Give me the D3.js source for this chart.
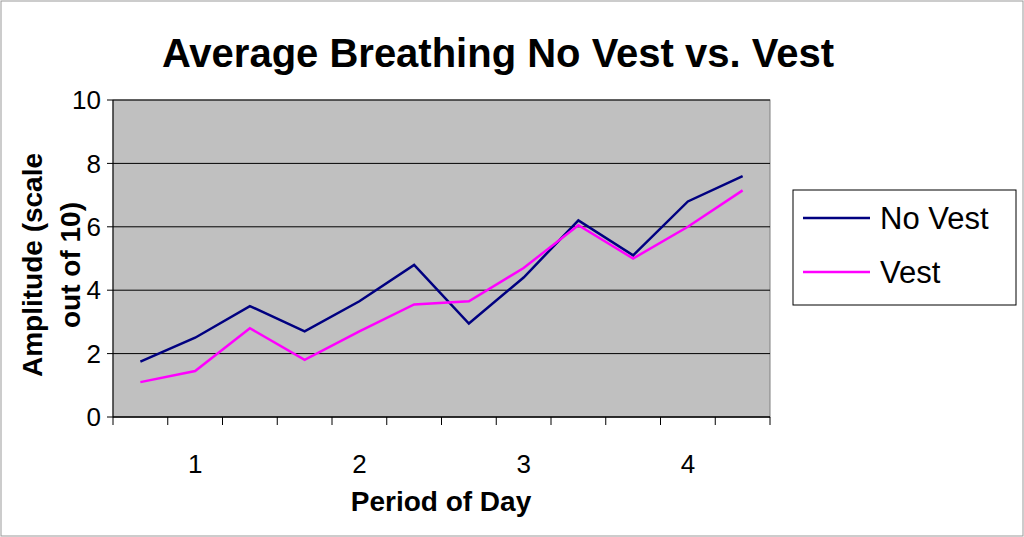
<!DOCTYPE html>
<html><head><meta charset="utf-8">
<script src="https://cdn.jsdelivr.net/npm/d3@7"></script>
<style>body{margin:0;background:#fff}svg{font-family:"Liberation Sans",Arial,sans-serif}</style>
</head><body><svg id="c" width="1024" height="537"></svg>
<script>
const categories = ["","1","","","2","","","3","","","4",""];
const noVest = [1.75,2.5,3.5,2.7,3.65,4.8,2.95,4.4,6.2,5.1,6.8,7.6];
const vest   = [1.1,1.45,2.8,1.8,2.7,3.55,3.65,4.7,6.05,5.0,6.0,7.15];
const yTicks = [0,2,4,6,8,10];
const svg = d3.select("#c");
svg.append("rect").attr("x",1).attr("y",1).attr("width",1022).attr("height",535).attr("fill","#fff").attr("stroke","#999");
const L=113,R=770,T=100,B=417;
const x = d3.scaleBand().domain(d3.range(categories.length)).range([L,R]);
const y = d3.scaleLinear().domain([0,10]).range([B,T]);
svg.append("rect").attr("x",L).attr("y",T).attr("width",R-L).attr("height",B-T).attr("fill","#c0c0c0").attr("stroke","#808080");
yTicks.forEach(t=>{
  svg.append("line").attr("x1",L).attr("x2",R).attr("y1",y(t)).attr("y2",y(t)).attr("stroke","#000").attr("stroke-width",1);
  svg.append("line").attr("x1",L-6).attr("x2",L).attr("y1",y(t)).attr("y2",y(t)).attr("stroke","#000");
  svg.append("text").attr("x",L-12).attr("y",y(t)).attr("dy","0.35em").attr("text-anchor","end").attr("font-size",26).text(t);
});
svg.append("line").attr("x1",L).attr("x2",L).attr("y1",T).attr("y2",B).attr("stroke","#000");
svg.append("line").attr("x1",L).attr("x2",R).attr("y1",B).attr("y2",B).attr("stroke","#000");
d3.range(categories.length+1).forEach(i=>{
  const xx = L + i*x.step();
  svg.append("line").attr("x1",xx).attr("x2",xx).attr("y1",B).attr("y2",B+8).attr("stroke","#000");
});
categories.forEach((c,i)=>{ if(c) svg.append("text").attr("x",x(i)+x.bandwidth()/2).attr("y",473).attr("text-anchor","middle").attr("font-size",26).text(c);});
const line = d3.line().x((d,i)=>x(i)+x.bandwidth()/2).y(d=>y(d));
svg.append("path").datum(noVest).attr("d",line).attr("fill","none").attr("stroke","#000080").attr("stroke-width",2.5);
svg.append("path").datum(vest).attr("d",line).attr("fill","none").attr("stroke","#ff00ff").attr("stroke-width",2.5);
svg.append("text").attr("x",498).attr("y",67).attr("text-anchor","middle").attr("font-size",40).attr("font-weight","bold").text("Average Breathing No Vest vs. Vest");
svg.append("text").attr("x",441).attr("y",511).attr("text-anchor","middle").attr("font-size",28).attr("font-weight","bold").text("Period of Day");
const yl = svg.append("text").attr("transform","translate(42,265) rotate(-90)").attr("text-anchor","middle").attr("font-size",28).attr("font-weight","bold");
yl.append("tspan").attr("x",0).attr("y",0).text("Amplitude (scale");
yl.append("tspan").attr("x",0).attr("y",38).text("out of 10)");
svg.append("rect").attr("x",793).attr("y",190).attr("width",223).attr("height",115).attr("fill","#fff").attr("stroke","#000");
[["No Vest","#000080",218],["Vest","#ff00ff",272]].forEach(([t,c,yy])=>{
  svg.append("line").attr("x1",803).attr("x2",870).attr("y1",yy).attr("y2",yy).attr("stroke",c).attr("stroke-width",2.5);
  svg.append("text").attr("x",880).attr("y",yy).attr("dy","0.35em").attr("font-size",31).text(t);
});
</script></body></html>
